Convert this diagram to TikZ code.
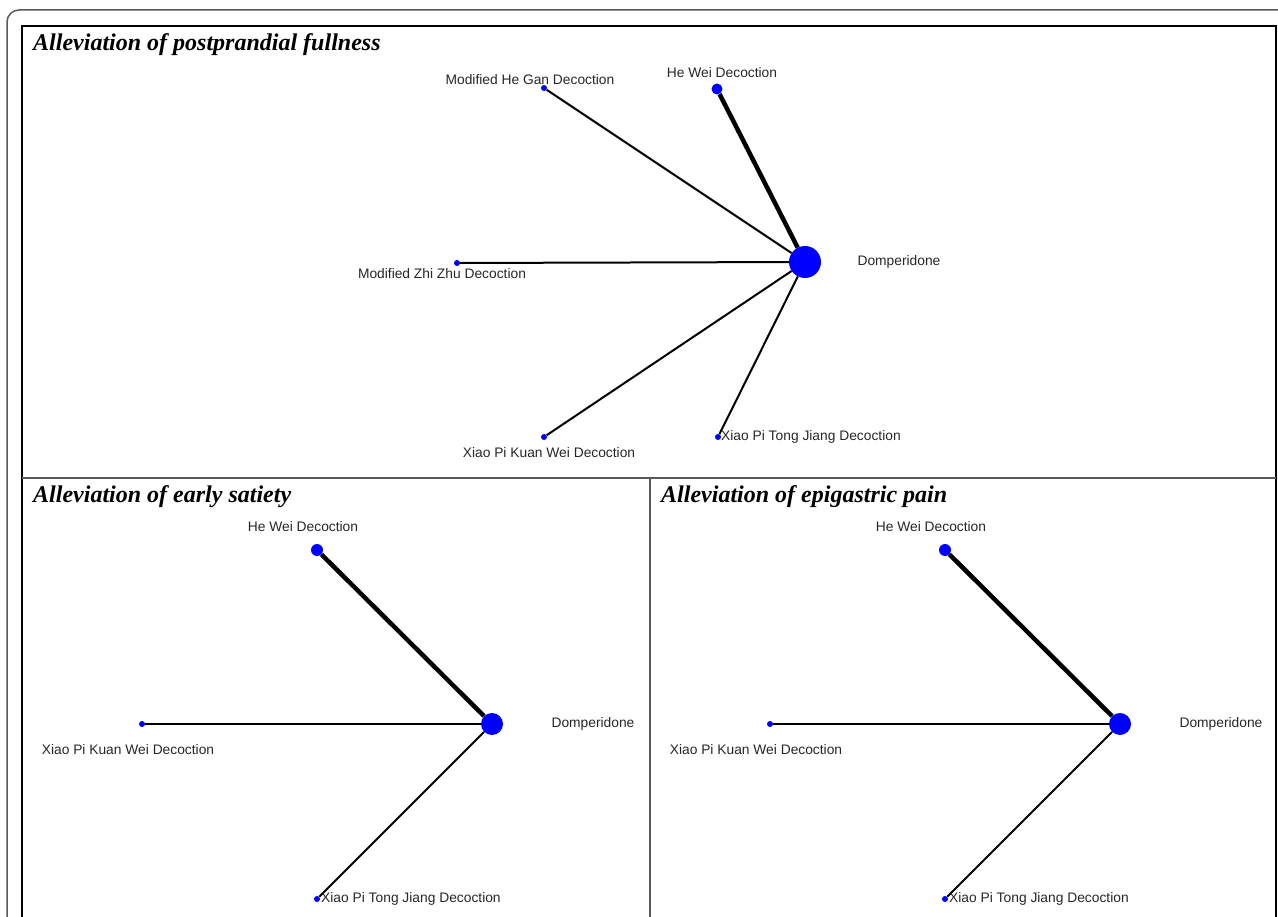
\documentclass[tikz,border=0pt]{standalone}
\usepackage{fontspec}
\setmainfont{Liberation Serif}
\setsansfont{Liberation Sans}
\usepackage{tikz}

\begin{document}
\begin{tikzpicture}[x=1pt, y=-1pt,
    trt/.style={circle, fill=blue, inner sep=0pt},
    lbl/.style={font=\sffamily\fontsize{13.8}{14}\selectfont, text=black!85, inner sep=0pt},
    ttl/.style={font=\bfseries\itshape\fontsize{24}{24}\selectfont, anchor=base west, inner sep=0pt},
    link/.style={line width=2pt},
    heavylink/.style={line width=4.5pt}]

    % Parameters
    \def\W{1278} % width of picture in px
    \def\H{917}  % height of picture in px
    \def\midY{478} % horizontal divider
    \def\midX{650} % vertical divider
    \def\shift{628} % offset of right panel

    % Page and clipping
    \useasboundingbox (0,0) rectangle (\W,\H);
    \clip (0,0) rectangle (\W,\H);

    % Draw frames
    \draw[gray!70!black, line width=1.5pt, rounded corners=12pt] (7,940) -- (7,10) -- (1300,10);
    \draw[line width=1.5pt] (22,940) -- (22,26) -- (1276,26) -- (1276,940);
    \draw[gray!70!black, line width=1.5pt] (22,\midY) -- (1276,\midY);
    \draw[gray!70!black, line width=1.5pt] (\midX,\midY) -- (\midX,940);

    % Panel 1: postprandial fullness
    \node[ttl] (title1) at (33,51) {Alleviation of postprandial fullness};

    \node[trt, minimum size=32pt] (domp1) at (805,262) {};
    \node[trt, minimum size=6pt] (hegan1) at (544,88) {};
    \node[trt, minimum size=11pt] (hewei1) at (717,89) {};
    \node[trt, minimum size=6pt] (zhizhu1) at (457,263) {};
    \node[trt, minimum size=6pt] (kuanwei1) at (544,437) {};
    \node[trt, minimum size=6pt] (tongjiang1) at (718,437) {};

    \draw[link] (hegan1) -- (domp1);
    \draw[heavylink] (hewei1) -- (domp1);
    \draw[link] (zhizhu1) -- (domp1);
    \draw[link] (kuanwei1) -- (domp1);
    \draw[link] (tongjiang1) -- (domp1);

    \node[lbl] (domp1lbl) at (899,262) {Domperidone};
    \node[lbl] (hegan1lbl) at (530,80) {Modified He Gan Decoction};
    \node[lbl] (hewei1lbl) at (722,73) {He Wei Decoction};
    \node[lbl] (zhizhu1lbl) at (442,274) {Modified Zhi Zhu Decoction};
    \node[lbl] (kuanwei1lbl) at (549,453) {Xiao Pi Kuan Wei Decoction};
    \node[lbl, anchor=west] (tongjiang1lbl) at (721,437) {Xiao Pi Tong Jiang Decoction};

    % Panel 2: early satiety
    \node[ttl] (title2) at (33,502) {Alleviation of early satiety};

    \node[trt, minimum size=22pt] (domp2) at (492,724) {};
    \node[trt, minimum size=12pt] (hewei2) at (317,550) {};
    \node[trt, minimum size=6pt] (kuanwei2) at (142,724) {};
    \node[trt, minimum size=6pt] (tongjiang2) at (317,899) {};

    \draw[heavylink] (hewei2) -- (domp2);
    \draw[link] (kuanwei2) -- (domp2);
    \draw[link] (tongjiang2) -- (domp2);

    \node[lbl] (domp2lbl) at (593,724) {Domperidone};
    \node[lbl] (hewei2lbl) at (303,527) {He Wei Decoction};
    \node[lbl] (kuanwei2lbl) at (128,750) {Xiao Pi Kuan Wei Decoction};
    \node[lbl, anchor=west] (tongjiang2lbl) at (321,899) {Xiao Pi Tong Jiang Decoction};

    % Panel 3: epigastric pain
    \node[ttl] (title3) at (33+\shift,502) {Alleviation of epigastric pain};

    \node[trt, minimum size=22pt] (domp3) at (492+\shift,724) {};
    \node[trt, minimum size=12pt] (hewei3) at (317+\shift,550) {};
    \node[trt, minimum size=6pt] (kuanwei3) at (142+\shift,724) {};
    \node[trt, minimum size=6pt] (tongjiang3) at (317+\shift,899) {};

    \draw[heavylink] (hewei3) -- (domp3);
    \draw[link] (kuanwei3) -- (domp3);
    \draw[link] (tongjiang3) -- (domp3);

    \node[lbl] (domp3lbl) at (593+\shift,724) {Domperidone};
    \node[lbl] (hewei3lbl) at (303+\shift,527) {He Wei Decoction};
    \node[lbl] (kuanwei3lbl) at (128+\shift,750) {Xiao Pi Kuan Wei Decoction};
    \node[lbl, anchor=west] (tongjiang3lbl) at (321+\shift,899) {Xiao Pi Tong Jiang Decoction};

\end{tikzpicture}
\end{document}
